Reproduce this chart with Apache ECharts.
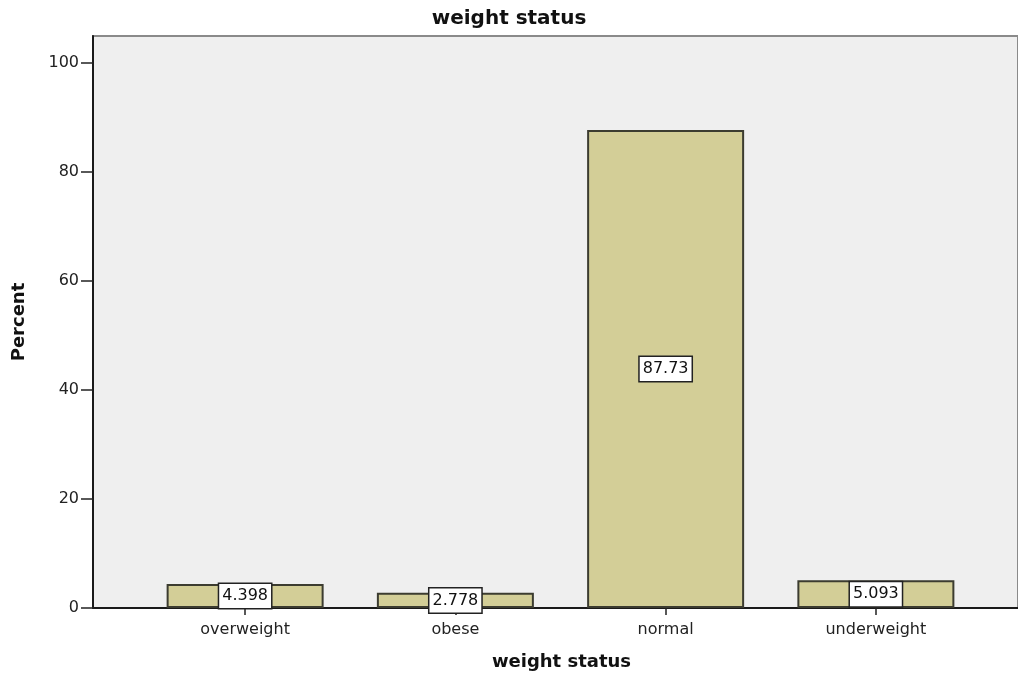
<!DOCTYPE html>
<html>
<head>
<meta charset="utf-8">
<script src="https://cdn.jsdelivr.net/npm/echarts@6/dist/echarts.min.js"></script>
<style>
  html, body { margin: 0; padding: 0; background: #ffffff; }
  #chart { width: 1018px; height: 677px; }
</style>
</head>
<body>
<div id="chart"></div>
<script>
// Weight status distribution (percent of respondents)
const categories = ['overweight', 'obese', 'normal', 'underweight'];
const percentValues = [4.398, 2.778, 87.73, 5.093];
const yTickValues = [0, 20, 40, 60, 80, 100];

const chart = echarts.init(document.getElementById('chart'));
const font = 'DejaVu Sans, Verdana, sans-serif';

chart.setOption({
  animation: false,
  backgroundColor: '#ffffff',
  title: {
    text: 'weight status',
    left: 'center',
    top: 4,
    textStyle: { fontFamily: font, fontSize: 20, fontWeight: 'bold', color: '#111' }
  },
  grid: [
    // frame grid: plot background, y axis and full-width baseline
    { left: 93, right: 0, top: 36, bottom: 69, show: true, outerBoundsMode: 'none',
      backgroundColor: '#efefef', borderColor: '#8a8a8a', borderWidth: 2 },
    // bar grid: categories occupy the inner span
    { left: 140, right: 37, top: 36, bottom: 69, outerBoundsMode: 'none' }
  ],
  xAxis: [
    { type: 'value', gridIndex: 0, min: 0, max: 1,
      axisLine: { show: true, lineStyle: { color: '#1a1a1a', width: 2 } },
      axisTick: { show: false }, axisLabel: { show: false }, splitLine: { show: false },
      name: 'weight status', nameLocation: 'middle', nameGap: 45,
      nameTextStyle: { fontFamily: font, fontSize: 18, fontWeight: 'bold', color: '#111', padding: [0, 0, 0, 12] } },
    { type: 'category', gridIndex: 1, data: categories,
      axisLine: { show: false },
      axisTick: { show: true, alignWithLabel: true, length: 7, lineStyle: { color: '#222', width: 1.5 } },
      axisLabel: { fontFamily: font, fontSize: 16, color: '#222', margin: 14 } }
  ],
  yAxis: [
    { type: 'value', gridIndex: 0, min: 0, max: 105,
      axisLine: { show: true, lineStyle: { color: '#1a1a1a', width: 2 } },
      axisTick: { show: true, length: 12, customValues: yTickValues, lineStyle: { color: '#222', width: 1.5 } },
      axisLabel: { fontFamily: font, fontSize: 16, color: '#222', margin: 14, customValues: yTickValues },
      splitLine: { show: false },
      name: 'Percent', nameLocation: 'middle', nameGap: 65, nameRotate: 90,
      nameTextStyle: { fontFamily: font, fontSize: 18, fontWeight: 'bold', color: '#111' } },
    { type: 'value', gridIndex: 1, min: 0, max: 105, show: false, splitLine: { show: false } }
  ],
  series: [
    {
      type: 'bar',
      xAxisIndex: 1,
      yAxisIndex: 1,
      data: percentValues,
      barWidth: 157,
      itemStyle: { color: '#d3ce97', borderColor: '#3c3c30', borderWidth: 2 },
      label: {
        show: true,
        position: 'inside',
        formatter: p => String(p.value),
        fontFamily: font,
        fontSize: 16,
        lineHeight: 17,
        color: '#111',
        backgroundColor: '#ffffff',
        borderColor: '#222',
        borderWidth: 1.5,
        padding: [4, 3, 3, 3]
      }
    }
  ]
});
</script>
</body>
</html>
